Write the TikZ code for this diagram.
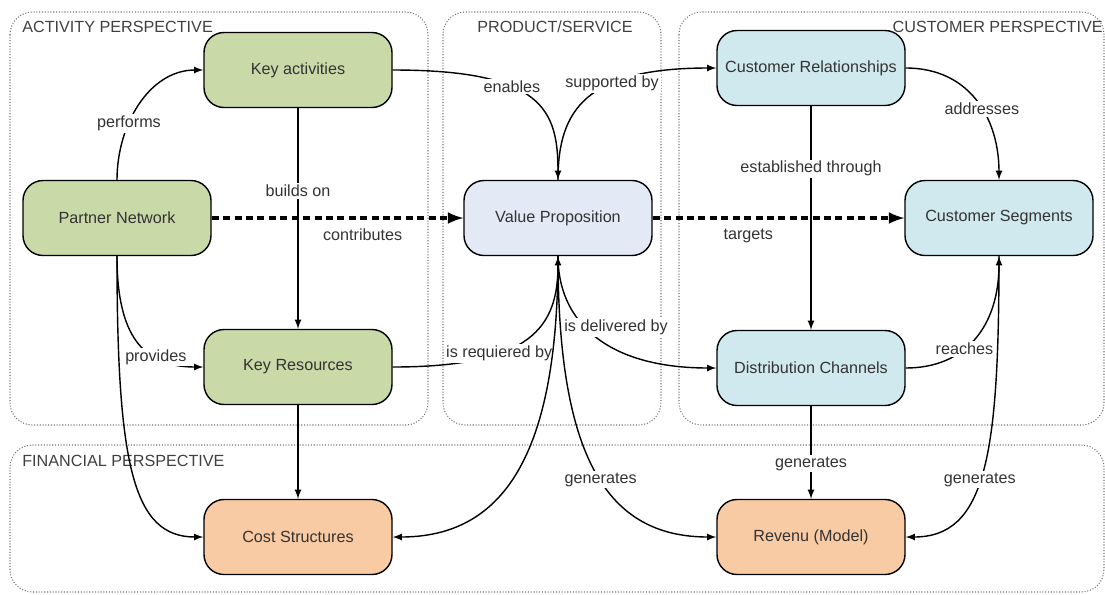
\documentclass[tikz,border=0pt]{standalone}
\usepackage{fontspec}
\setmainfont{Liberation Sans}
\pgfdeclarelayer{bg}
\pgfdeclarelayer{fg}
\pgfsetlayers{bg,main,fg}
\definecolor{actgreen}{RGB}{201,218,168}
\definecolor{propblue}{RGB}{227,234,246}
\definecolor{custblue}{RGB}{208,233,238}
\definecolor{finorange}{RGB}{249,203,164}
\tikzset{
  block/.style={draw, line width=0.8pt, rounded corners=0.4cm,
    minimum width=3.76cm, minimum height=1.5cm, text=black!80},
  panel/.style={draw=black!55, densely dotted, line width=0.6pt, rounded corners=0.45cm},
  title/.style={text=black!75, inner sep=0pt},
  lbl/.style={fill=white, inner sep=1pt, text=black!80},
  link/.style={-latex, line width=0.8pt},
  flow/.style={-latex, line width=2pt, dash pattern=on 4pt off 2.5pt}
}

\begin{document}
\begin{tikzpicture}[font=\fontsize{9.2}{11}\selectfont]
                \useasboundingbox (0,0) rectangle (22.1,-11.88);

                % perspectives
                \begin{pgfonlayer}{bg}
                \draw[panel] (0.2,-0.24) rectangle (8.56,-8.5);
                \draw[panel] (8.86,-0.24) rectangle (13.22,-8.5);
                \draw[panel] (13.58,-0.24) rectangle (22.08,-8.5);
                \draw[panel] (0.2,-8.9) rectangle (22.08,-11.84);
                \end{pgfonlayer}

                \node[title, anchor=west] (tact) at (0.44,-0.54) {ACTIVITY PERSPECTIVE};
                \node[title] (tprod) at (11.1,-0.54) {PRODUCT/SERVICE};
                \node[title, anchor=east] (tcust) at (22.06,-0.54) {CUSTOMER PERSPECTIVE};
                \node[title, anchor=west] (tfin) at (0.44,-9.22) {FINANCIAL PERSPECTIVE};

                % blocks
                \node[block, fill=actgreen] (ka) at (5.96,-1.40) {Key activities};
                \node[block, fill=actgreen] (pn) at (2.34,-4.36) {Partner Network};
                \node[block, fill=actgreen] (kr) at (5.96,-7.34) {Key Resources};
                \node[block, fill=finorange] (cost) at (5.96,-10.74) {Cost Structures};
                \node[block, fill=propblue] (vp) at (11.16,-4.36) {Value Proposition};
                \node[block, fill=custblue] (cr) at (16.22,-1.36) {Customer Relationships};
                \node[block, fill=custblue] (seg) at (19.98,-4.36) {Customer Segments};
                \node[block, fill=custblue] (dc) at (16.22,-7.36) {Distribution Channels};
                \node[block, fill=finorange] (rev) at (16.22,-10.74) {Revenu (Model)};

                % links
                \draw[flow] (pn) -- node[pos=0.6, below=2pt, text=black!80] (lcon) {contributes} (vp);
                \draw[flow] (vp) -- node[pos=0.38, below=2pt, text=black!80] (ltar) {targets} (seg);

                \draw[link] (pn.north) to[out=90,in=180] node[lbl, pos=0.36] (lperf) {performs} (ka.west);
                \draw[link] (ka) -- node[lbl, pos=0.376] (lbuild) {builds on} (kr);
                \draw[link] (ka.east) .. controls +(3.0,0) and +(0,1.4) .. node[lbl, pos=0.38] (lena) {enables} (vp.north);
                \draw[link] (vp.north) .. controls +(0,1.4) and +(-2.6,0) .. node[lbl, pos=0.64] (lsup) {supported by} (cr.west);
                \draw[link] (cr.east) .. controls +(1.3,0) and +(0,1.2) .. node[lbl, pos=0.56] (ladd) {addresses} (seg.north);
                \draw[link] (cr) -- node[lbl, pos=0.28] (lest) {established through} (dc);

                \draw[link] (pn.south) .. controls +(0,-1.6) and +(-1.2,0) .. node[lbl, pos=0.68] (lprov) {provides} (kr.west);
                \draw[link] (pn.south) .. controls +(0,-4.2) and +(-1.4,0) .. (cost.west);
                \draw[link] (kr) -- (cost);
                \draw[link] (kr.east) .. controls +(2.8,0) and +(0,-1.4) .. node[lbl, pos=0.34] (lreq) {is requiered by} (vp.south);
                \draw[link] (vp.south) .. controls +(0,-4) and +(2.2,0) .. (cost.east);
                \draw[link] (vp.south) .. controls +(0,-1.3) and +(-2.2,0) .. node[lbl, pos=0.4, xshift=0.68cm, yshift=-0.08cm] (ldel) {is delivered by} (dc.west);
                \draw[link] (vp.south) .. controls +(0,-4) and +(-2.2,0) .. node[lbl, pos=0.53] (lgen1) {generates} (rev.west);
                \draw[link] (dc) -- node[lbl, pos=0.62] (lgen2) {generates} (rev);
                \draw[link] (dc.east) .. controls +(1.2,0) and +(0,-1.4) .. node[lbl, pos=0.4] (lreach) {reaches} (seg.south);
                \draw[link] (seg.south) .. controls +(0,-4) and +(1.6,0) .. node[lbl, pos=0.53] (lgen3) {generates} (rev.east);
            \end{tikzpicture}
\end{document}
